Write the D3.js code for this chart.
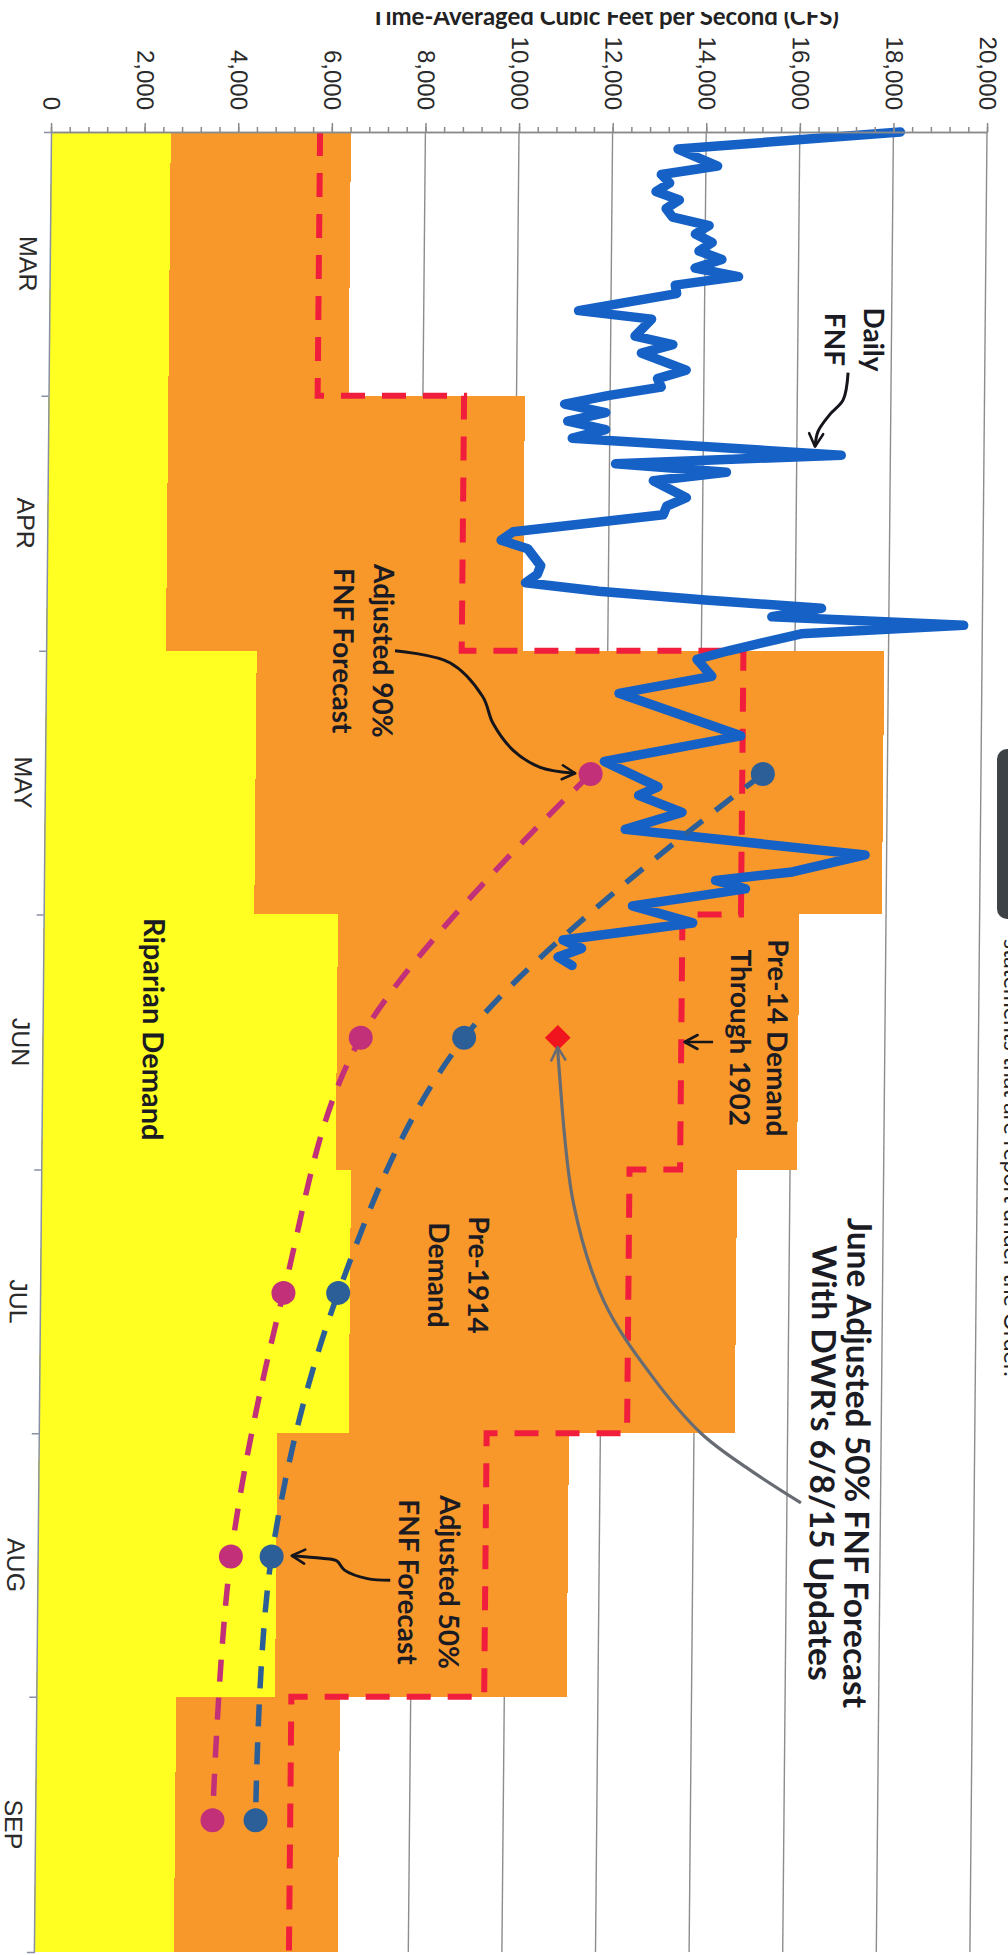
<!DOCTYPE html>
<html>
<head>
<meta charset="utf-8">
<script src="https://cdn.jsdelivr.net/npm/d3@7"></script>
<style>
  body { margin: 0; background: #fff; }
  svg { display: block; }
</style>
</head>
<body>
<div class="chart"></div>
<script>
// monthly step series (CFS)
const months = ["MAR", "APR", "MAY", "JUN", "JUL", "AUG", "SEP"]
const riparian = [2560, 2560, 4500, 6290, 6620, 5100, 2990]
const pre1914 = [6410, 10180, 17910, 16150, 14870, 11330, 6490]
const pre14Thru1902 = [5750, 8880, 14900, 13650, 12570, 9570, 5450]

// forecasts, plotted mid month
const fcstMonths = ["MAY", "JUN", "JUL", "AUG", "SEP"]
const fcst90 = [11660, 6800, 5200, 4130, 3790]
const fcst50 = [15340, 9010, 6370, 5000, 4710]
const juneUpdateMonth = "JUN"
const juneUpdate = 11010

// daily full natural flow, day 0 = Mar 1
const fnfDay = [0,2,4,5,6,7,8,9,10,11,12,13,14,15,16,17,18,19,21,22,24,25,26,28,29,30,31,32,33,34,
  35,36,38,39,40,41,43,44,45,47,48,49,51,52,53,54,55,56,57,58,59,61,62,64,66,71,74,77,78,80,
  82,85,87,88,89,91,93,95,96,97,98]
const fnfCfs = [18150,13400,14250,13050,13230,12940,13440,13160,13300,14080,13790,14150,13870,14360,13790,
  14720,13370,13400,11310,12870,12520,13330,12660,13620,13010,13090,11950,11030,11910,11100,
  11910,11200,16950,12130,14500,12940,13650,13230,13160,9960,9700,10270,10550,10480,10230,
  11800,14000,16560,15500,19600,16130,14580,13910,14230,12250,14860,11950,13100,12690,13620,
  12410,17540,15990,14350,14990,12580,13870,11100,11500,11000,11300]

const cfsTicks = [0, 2000, 4000, 6000, 8000, 10000, 12000, 14000, 16000, 18000, 20000]

const W = 1008, H = 1955
const plotTop = 132, plotBottom = 1952, plotLeft = 51, plotRight = 987
const shear = 0.0094   // the scan leans a little

const day0 = Date.UTC(2015, 2, 1)
const dayDate = d => new Date(day0 + d * 864e5)
const monthStart = months.map((m, i) => new Date(Date.UTC(2015, 2 + i, 1)))
const monthEnd = months.map((m, i) => new Date(Date.UTC(2015, 3 + i, 1)))
const midMonth = m => new Date(Date.UTC(2015, 2 + months.indexOf(m), 15, 12))

const x = d3.scaleLinear().domain([0, 20000]).range([plotLeft, plotRight])
const y = d3.scaleUtc().domain([monthStart[0], monthEnd[6]]).range([plotTop, plotBottom])

const svg = d3.select(".chart").append("svg")
  .attr("width", W)
  .attr("height", H)

const defs = svg.append("defs")
function arrowHead(id, color) {
  defs.append("marker")
    .attr("id", id)
    .attr("viewBox", "0 0 20 20")
    .attr("refX", 17).attr("refY", 10)
    .attr("markerWidth", 20).attr("markerHeight", 20)
    .attr("markerUnits", "userSpaceOnUse")
    .attr("orient", "auto")
    .append("path")
    .attr("d", "M4,3 L17,10 L4,17")
    .attr("fill", "none")
    .attr("stroke", color)
    .attr("stroke-width", 2.6)
    .attr("stroke-linecap", "round")
    .attr("stroke-linejoin", "round")
}
arrowHead("headBlack", "#15151c")
arrowHead("headGrey", "#676b72")

defs.append("clipPath").attr("id", "titleClip")
  .append("rect").attr("x", 0).attr("y", 12).attr("width", W).attr("height", 40)

const g = svg.append("g")
  .attr("transform", `matrix(1,0,${-shear},1,${shear * plotTop},0)`)

// gridlines
g.append("g")
  .selectAll("line")
  .data(cfsTicks.slice(1))
  .enter()
  .append("line")
  .attr("x1", d => x(d)).attr("x2", d => x(d))
  .attr("y1", plotTop).attr("y2", plotBottom)
  .attr("stroke", "#8d8d8d")
  .attr("stroke-width", 1.4)

// Pre-1914 demand (orange) and riparian demand (yellow)
g.append("g")
  .selectAll("rect")
  .data(months)
  .enter()
  .append("rect")
  .attr("x", x(0))
  .attr("y", (d, i) => y(monthStart[i]))
  .attr("width", (d, i) => x(pre1914[i]) - x(0))
  .attr("height", (d, i) => y(monthEnd[i]) - y(monthStart[i]))
  .attr("fill", "#f9982a")
  .attr("shape-rendering", "crispEdges")

g.append("g")
  .selectAll("rect")
  .data(months)
  .enter()
  .append("rect")
  .attr("x", x(0))
  .attr("y", (d, i) => y(monthStart[i]))
  .attr("width", (d, i) => x(riparian[i]) - x(0))
  .attr("height", (d, i) => y(monthEnd[i]) - y(monthStart[i]))
  .attr("fill", "#ffff22")
  .attr("shape-rendering", "crispEdges")

// Pre-14 demand through 1902, red dashed steps
const stepPts = months.map((m, i) => [pre14Thru1902[i], monthStart[i]])
stepPts.push([pre14Thru1902[6], monthEnd[6]])
g.append("path")
  .datum(stepPts)
  .attr("d", d3.line().x(d => x(d[0])).y(d => y(d[1])).curve(d3.curveStepBefore))
  .attr("fill", "none")
  .attr("stroke", "#f01e3c")
  .attr("stroke-width", 6)
  .attr("stroke-dasharray", "24 17")

// daily FNF
const fnf = fnfDay.map((d, i) => ({ date: dayDate(d), cfs: fnfCfs[i] }))
g.append("path")
  .datum(fnf)
  .attr("d", d3.line().x(d => x(d.cfs)).y(d => y(d.date)))
  .attr("fill", "none")
  .attr("stroke", "#1661c6")
  .attr("stroke-width", 9.5)
  .attr("stroke-linejoin", "round")
  .attr("stroke-linecap", "round")

// forecast curves
function forecast(values, color) {
  const pts = fcstMonths.map((m, i) => ({ date: midMonth(m), cfs: values[i] }))
  g.append("path")
    .datum(pts)
    .attr("d", d3.line().x(d => x(d.cfs)).y(d => y(d.date)).curve(d3.curveCatmullRom.alpha(0.5)))
    .attr("fill", "none")
    .attr("stroke", color)
    .attr("stroke-width", 5.5)
    .attr("stroke-dasharray", "22 16")
  g.append("g")
    .selectAll("circle")
    .data(pts)
    .enter()
    .append("circle")
    .attr("cx", d => x(d.cfs))
    .attr("cy", d => y(d.date))
    .attr("r", 12)
    .attr("fill", color)
}
forecast(fcst90, "#c2307a")
forecast(fcst50, "#2c5f97")

g.append("path")
  .attr("d", d3.symbol(d3.symbolSquare, 330)())
  .attr("transform", `translate(${x(juneUpdate)},${y(midMonth(juneUpdateMonth))}) rotate(45)`)
  .attr("fill", "#f0141e")

// annotations, placed in data units
const ann = g.append("g")
  .attr("font-family", "Lato, 'Open Sans', sans-serif")
  .attr("font-weight", "bold")
  .attr("fill", "#1b1b24")

function rotText(lines, cfs, dayPos, size, lh) {
  const t = ann.append("text")
    .attr("transform", `translate(${x(cfs)},${y(dayDate(dayPos))}) rotate(90)`)
    .attr("text-anchor", "middle")
    .attr("font-size", size)
  lines.forEach((s, i) => {
    t.append("tspan")
      .attr("x", 0)
      .attr("y", (i - (lines.length - 1) / 2) * lh + 0.35 * size)
      .text(s)
  })
}

const curvy = d3.line().x(d => x(d[0])).y(d => y(dayDate(d[1]))).curve(d3.curveCatmullRom.alpha(0.5))
function arrow(pts, color, head, width) {
  ann.append("path")
    .datum(pts)
    .attr("d", curvy)
    .attr("fill", "none")
    .attr("stroke", color)
    .attr("stroke-width", width)
    .attr("marker-end", `url(#${head})`)
}

rotText(["Daily", "FNF"], 17200, 24.4, 28, 39)
arrow([[17080, 28.3], [16980, 31.5], [16700, 33.2], [16450, 35.2], [16390, 37.0]], "#15151c", "headBlack", 3)

rotText(["Adjusted 90%", "FNF Forecast"], 6770, 61, 28, 40)
arrow([[7455, 61.0], [8630, 62.4], [9340, 66.4], [9560, 69.5], [10000, 72.7], [10580, 74.7], [11330, 75.4]], "#15151c", "headBlack", 3)

rotText(["Pre-14 Demand", "Through 1902"], 15300, 106.5, 28, 37)
arrow([[14330, 107], [13720, 107]], "#15151c", "headBlack", 2.5)

rotText(["Riparian Demand"], 2360, 105.5, 29, 34)
rotText(["Pre-1914", "Demand"], 8930, 134.4, 28, 40)
rotText(["Adjusted 50%", "FNF Forecast"], 8360, 170.5, 28, 41)
arrow([[7540, 170.3], [7050, 170.1], [6560, 169.1], [6390, 168.0], [6070, 167.7], [5430, 167.4]], "#15151c", "headBlack", 3)

rotText(["June Adjusted 50% FNF Forecast", "With DWR's 6/8/15 Updates"], 17120, 156.5, 33.5, 35)
arrow([[16300, 161.2], [15170, 157.2], [14150, 153.0], [13080, 146.2], [12050, 137.5], [11380, 126.0], [11050, 110.5], [11010, 107.6]], "#676b72", "headGrey", 3.2)

// axes
const xAxis = d3.axisTop(x)
  .tickValues(cfsTicks)
  .tickSize(9)
  .tickSizeOuter(0)
  .tickFormat(d3.format(","))
const xMinor = d3.axisTop(x)
  .tickValues(d3.range(0, 20001, 400))
  .tickSize(5)
  .tickSizeOuter(0)
  .tickFormat("")

const gx = g.append("g").attr("class", "axis x-axis").attr("transform", `translate(0,${plotTop})`)
gx.call(xMinor)
gx.append("g").call(xAxis)
gx.selectAll("path, line").attr("stroke", "#8a8a8a").attr("stroke-width", 1.5)
gx.selectAll("text")
  .attr("transform", "rotate(90)")
  .attr("x", -22)
  .attr("y", 0)
  .attr("dy", "0.35em")
  .style("text-anchor", "end")
  .attr("font-family", "'Liberation Sans', Arial, sans-serif")
  .attr("font-size", 24)
  .attr("fill", "#2a2a2a")

const yAxis = d3.axisLeft(y)
  .tickValues(monthStart.slice(1))
  .tickSize(7)
  .tickSizeOuter(7)
  .tickFormat("")
const gy = g.append("g").attr("class", "axis y-axis").attr("transform", `translate(${plotLeft},0)`).call(yAxis)
gy.selectAll("path, line").attr("stroke", "#8890a6").attr("stroke-width", 1.5)

g.append("g")
  .selectAll("text")
  .data(months)
  .enter()
  .append("text")
  .attr("transform", (d, i) => `translate(${plotLeft - 21.5},${y(new Date((+monthStart[i] + +monthEnd[i]) / 2))}) rotate(90)`)
  .attr("text-anchor", "middle")
  .attr("dy", "0.35em")
  .attr("font-family", "'Liberation Sans', Arial, sans-serif")
  .attr("font-size", 25)
  .attr("fill", "#2a2a2a")
  .text(d => d)

// axis title, top half lost in the scan
svg.append("text")
  .attr("x", 605)
  .attr("y", 25)
  .attr("clip-path", "url(#titleClip)")
  .attr("text-anchor", "middle")
  .attr("font-family", "Lato, 'Open Sans', sans-serif")
  .attr("font-weight", "bold")
  .attr("font-size", 24)
  .attr("fill", "#222")
  .text("Time-Averaged Cubic Feet per Second (CFS)")

// bits of the page beside the chart
svg.append("rect")
  .attr("x", 997).attr("y", 749)
  .attr("width", 30).attr("height", 170)
  .attr("rx", 10)
  .attr("fill", "#3d4246")
svg.append("text")
  .attr("transform", "translate(1004,939) rotate(90)")
  .attr("font-family", "Lato, 'Open Sans', sans-serif")
  .attr("font-size", 23)
  .attr("fill", "#222")
  .text("statements that are report under the Order.")
</script>
</body>
</html>
